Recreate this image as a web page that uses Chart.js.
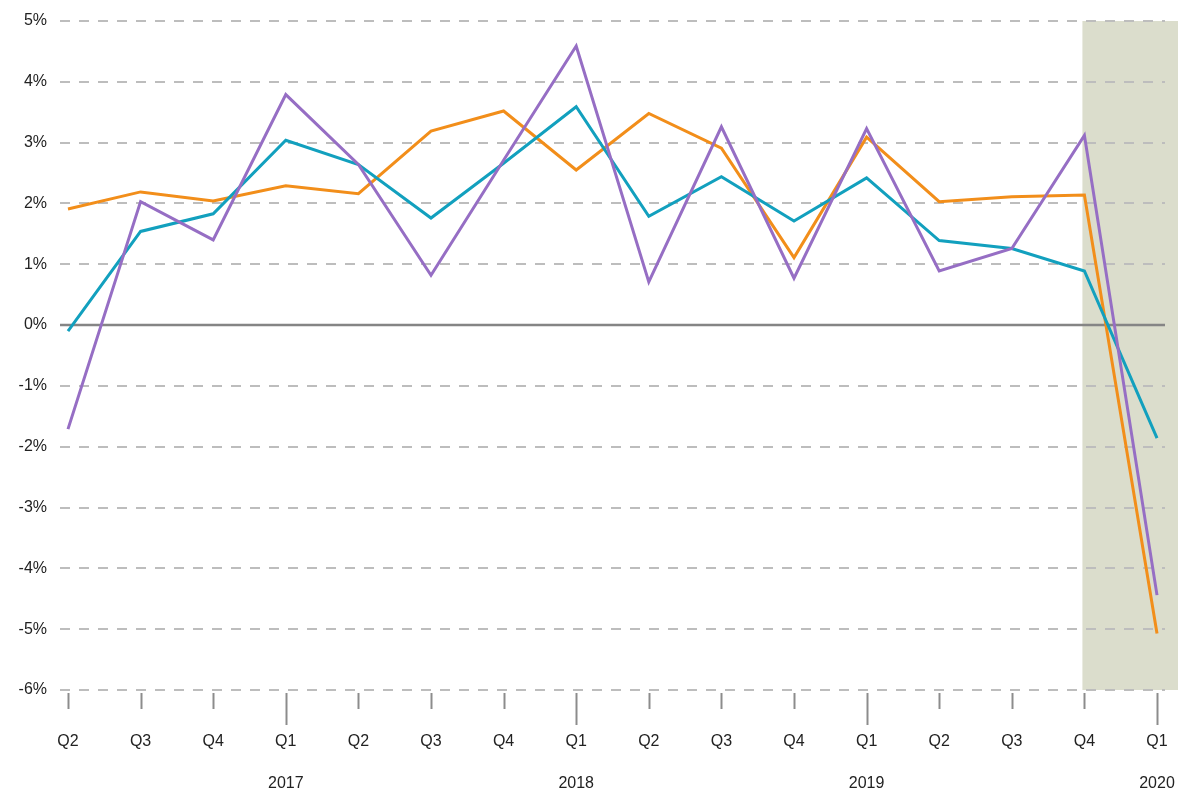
<!DOCTYPE html>
<html>
<head>
<meta charset="utf-8">
<script src="https://cdn.jsdelivr.net/npm/chart.js@4/dist/chart.umd.min.js"></script>
<style>
    html, body { margin: 0; padding: 0; background: #fff; }
    #wrap { width: 1178px; height: 795px; }
</style>
</head>
<body>
<div id="wrap"><canvas id="growthChart"></canvas></div>
<script>
let quarters = ['Q2', 'Q3', 'Q4', 'Q1', 'Q2', 'Q3', 'Q4', 'Q1', 'Q2', 'Q3', 'Q4', 'Q1', 'Q2', 'Q3', 'Q4', 'Q1'];
let years = ['', '', '', '2017', '', '', '', '2018', '', '', '', '2019', '', '', '', '2020'];

let orangeValues = [1.91, 2.19, 2.04, 2.29, 2.16, 3.19, 3.52, 2.55, 3.48, 2.91, 1.11, 3.09, 2.03, 2.11, 2.14, -5.07];
let tealValues = [-0.10, 1.54, 1.83, 3.04, 2.64, 1.76, 2.66, 3.59, 1.79, 2.44, 1.71, 2.42, 1.39, 1.26, 0.89, -1.86];
let purpleValues = [-1.71, 2.03, 1.40, 3.79, 2.64, 0.82, 2.71, 4.59, 0.71, 3.26, 0.77, 3.23, 0.89, 1.26, 3.12, -4.44];

let yTicks = [5, 4, 3, 2, 1, 0, -1, -2, -3, -4, -5, -6];
let shadeFrom = 14; // Q4 2019 onwards

document.addEventListener("DOMContentLoaded", () => {
    buildGrowthChart();
});

function toPoints(values) {
    return values.map((v, i) => ({ x: i, y: v }));
}

// shaded recession band, zero line and the quarter tick marks
let decorPlugin = {
    id: 'decor',
    beforeDraw(chart) {
        let ctx = chart.ctx;
        let x = chart.scales.x;
        let y = chart.scales.y;
        let left = x.getPixelForValue(shadeFrom) - 2;
        ctx.save();
        ctx.fillStyle = 'rgb(219, 221, 204)';
        ctx.fillRect(left, y.getPixelForValue(5), chart.width - left, y.getPixelForValue(-6) - y.getPixelForValue(5));
        ctx.restore();
    },
    beforeDatasetsDraw(chart) {
        let ctx = chart.ctx;
        let area = chart.chartArea;
        let y = chart.scales.y;
        let x = chart.scales.x;
        let zero = y.getPixelForValue(0);
        ctx.save();
        ctx.strokeStyle = '#858585';
        ctx.lineWidth = 2.5;
        ctx.beginPath();
        ctx.moveTo(area.left, zero);
        ctx.lineTo(area.right, zero);
        ctx.stroke();

        ctx.strokeStyle = '#8c8c8c';
        ctx.lineWidth = 2;
        let base = y.getPixelForValue(-6);
        quarters.forEach((q, i) => {
            let px = Math.round(x.getPixelForValue(i)) + 0.5;
            ctx.beginPath();
            ctx.moveTo(px, base + 3);
            ctx.lineTo(px, base + (q === 'Q1' ? 35 : 19));
            ctx.stroke();
        });
        ctx.restore();
    }
};

function buildGrowthChart() {
    let ctx = document.getElementById('growthChart');

    new Chart(ctx, {
        type: 'line',
        data: {
            datasets: [
                {
                    label: 'Purple',
                    data: toPoints(purpleValues),
                    borderColor: 'rgb(150, 110, 196)',
                    borderWidth: 3,
                    order: 0,
                },
                {
                    label: 'Teal',
                    data: toPoints(tealValues),
                    borderColor: 'rgb(18, 160, 190)',
                    borderWidth: 3,
                    order: 1,
                },
                {
                    label: 'Orange',
                    data: toPoints(orangeValues),
                    borderColor: 'rgb(242, 142, 26)',
                    borderWidth: 3,
                    order: 2,
                },
            ],
        },
        options: {
            responsive: true,
            maintainAspectRatio: false,
            animation: false,
            events: [],
            elements: {
                point: { radius: 0 },
                line: { tension: 0, fill: false, borderJoinStyle: 'miter' },
            },
            layout: {
                padding: { top: 21, right: 13, bottom: 0, left: 0 },
            },
            plugins: {
                legend: { display: false },
                tooltip: { enabled: false },
            },
            scales: {
                x: {
                    type: 'linear',
                    min: -0.11,
                    max: 15.11,
                    afterBuildTicks: (scale) => {
                        scale.ticks = quarters.map((q, i) => ({ value: i }));
                    },
                    afterFit: (scale) => {
                        scale.height = 105;
                        scale.paddingLeft = 0;
                        scale.paddingRight = 0;
                    },
                    grid: { display: false, drawTicks: false },
                    border: { display: false },
                    ticks: {
                        autoSkip: false,
                        maxRotation: 0,
                        padding: 31,
                        color: '#222',
                        font: { family: 'Liberation Sans, Arial, sans-serif', size: 16, lineHeight: '42px' },
                        callback: (value) => years[value] ? [quarters[value], years[value]] : quarters[value],
                    },
                },
                y: {
                    min: -6,
                    max: 5,
                    afterBuildTicks: (scale) => {
                        scale.ticks = yTicks.map(v => ({ value: v }));
                    },
                    afterFit: (scale) => {
                        scale.width = 60;
                        scale.paddingTop = 0;
                        scale.paddingBottom = 0;
                    },
                    grid: {
                        drawTicks: false,
                        color: (c) => c.tick && c.tick.value === 0 ? 'rgba(0,0,0,0)' : '#bdbdbd',
                        lineWidth: 2,
                    },
                    border: { display: false, dash: [10, 9] },
                    ticks: {
                        padding: 13,
                        color: '#222',
                        font: { family: 'Liberation Sans, Arial, sans-serif', size: 16 },
                        callback: (value) => value + '%',
                    },
                },
            },
        },
        plugins: [decorPlugin],
    });
}
</script>
</body>
</html>
